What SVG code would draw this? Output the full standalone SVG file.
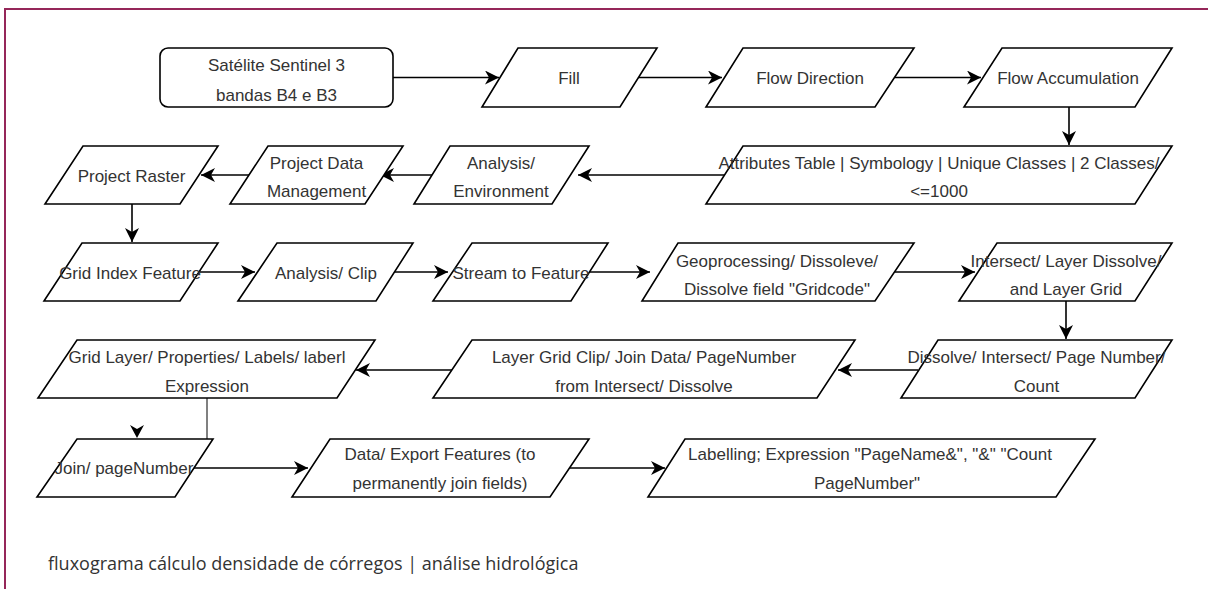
<svg xmlns="http://www.w3.org/2000/svg" width="1208" height="589" viewBox="0 0 1208 589">
<defs>
<marker id="arr" markerUnits="userSpaceOnUse" markerWidth="15" markerHeight="14" viewBox="0 0 15 14" refX="14" refY="7" orient="auto">
<path d="M0,0 L14,7 L0,14 L4,7 Z" fill="#000"/>
</marker>
<style>
.n{fill:#fff;stroke:#000;stroke-width:1.6}
.t{font-family:"Liberation Sans",Arial,sans-serif;font-size:17px;fill:#333;text-anchor:middle}
.c{fill:none;stroke:#000;stroke-width:1.6}
</style>
</defs>
<rect width="1208" height="589" fill="#fff"/>
<path d="M5,589 V9 H1208" fill="none" stroke="#952659" stroke-width="2"/>

<g id="connectors">
<path class="c" d="M393,77.5 H499" marker-end="url(#arr)"/>
<path class="c" d="M638,77.5 H722" marker-end="url(#arr)"/>
<path class="c" d="M895,77.5 H981" marker-end="url(#arr)"/>
<path class="c" d="M1069,107 V145" marker-end="url(#arr)"/>
<path class="c" d="M724,175 H578" marker-end="url(#arr)"/>
<path class="c" d="M433,175 H380" marker-end="url(#arr)"/>
<path class="c" d="M260,175 H201" marker-end="url(#arr)"/>
<path class="c" d="M132,204 V242" marker-end="url(#arr)"/>
<path class="c" d="M200,272 H255" marker-end="url(#arr)"/>
<path class="c" d="M394,272 H448" marker-end="url(#arr)"/>
<path class="c" d="M588,272 H650" marker-end="url(#arr)"/>
<path class="c" d="M895,272 H975" marker-end="url(#arr)"/>
<path class="c" d="M1066,301 V339" marker-end="url(#arr)"/>
<path class="c" d="M918,370 H838" marker-end="url(#arr)"/>
<path class="c" d="M452,370 H356" marker-end="url(#arr)"/>
<path d="M207,398 V439" fill="none" stroke="#808080" stroke-width="2"/>
<path d="M130,425 L137,438 L144,425 L137,429 Z" fill="#000"/>
<path class="c" d="M193,468 H308" marker-end="url(#arr)"/>
<path class="c" d="M570,468 H665" marker-end="url(#arr)"/>
</g>

<g id="n1"><rect class="n" x="160" y="48" width="233" height="59" rx="8"/>
<text class="t" x="276.5" y="71">Satélite Sentinel 3</text><text class="t" x="276.5" y="101">bandas B4 e B3</text></g>
<g id="n2"><polygon class="n" points="518,48 657,48 620,107 482,107"/><text class="t" x="569" y="84">Fill</text></g>
<g id="n3"><polygon class="n" points="743,48 914,48 875,107 706,107"/><text class="t" x="810" y="84">Flow Direction</text></g>
<g id="n4"><polygon class="n" points="1002,48 1172,48 1135,107 964,107"/><text class="t" x="1068" y="84">Flow Accumulation</text></g>

<g id="n5"><polygon class="n" points="743,146 1172,146 1135,204 706,204"/>
<text class="t" x="939" y="169">Attributes Table | Symbology | Unique Classes | 2 Classes/</text><text class="t" x="939" y="197">&lt;=1000</text></g>
<g id="n6"><polygon class="n" points="450,146 589,146 552,204 414,204"/>
<text class="t" x="501" y="169">Analysis/</text><text class="t" x="501" y="197">Environment</text></g>
<g id="n7"><polygon class="n" points="268,146 403,146 365,204 230,204"/>
<text class="t" x="316.5" y="169">Project Data</text><text class="t" x="316.5" y="197">Management</text></g>
<g id="n8"><polygon class="n" points="83,146 218,146 180,204 45,204"/><text class="t" x="131.5" y="182">Project Raster</text></g>

<g id="n9"><polygon class="n" points="82,243 218,243 180,301 44,301"/><text class="t" x="130" y="279">Grid Index Feature</text></g>
<g id="n10"><polygon class="n" points="277,243 413,243 376,301 238,301"/><text class="t" x="326" y="279">Analysis/ Clip</text></g>
<g id="n11"><polygon class="n" points="472,243 608,243 571,301 433,301"/><text class="t" x="521" y="279">Stream to Feature</text></g>
<g id="n12"><polygon class="n" points="678,243 914,243 875,301 642,301"/>
<text class="t" x="777" y="267">Geoprocessing/ Dissoleve/</text><text class="t" x="777" y="295">Dissolve field "Gridcode"</text></g>
<g id="n13"><polygon class="n" points="997,243 1172,243 1135,301 959,301"/>
<text class="t" x="1066" y="267">Intersect/ Layer Dissolve/</text><text class="t" x="1066" y="295">and Layer Grid</text></g>

<g id="n14"><polygon class="n" points="938,340 1172,340 1135,398 901,398"/>
<text class="t" x="1036.5" y="363">Dissolve/ Intersect/ Page Number/</text><text class="t" x="1036.5" y="392">Count</text></g>
<g id="n15"><polygon class="n" points="472,340 855,340 817,398 433,398"/>
<text class="t" x="644" y="363">Layer Grid Clip/ Join Data/ PageNumber</text><text class="t" x="644" y="392">from Intersect/ Dissolve</text></g>
<g id="n16"><polygon class="n" points="77,340 375,340 337,398 38,398"/>
<text class="t" x="207" y="363">Grid Layer/ Properties/ Labels/ laberl</text><text class="t" x="207" y="392">Expression</text></g>

<g id="n17"><polygon class="n" points="77,439 213,439 175,497 37,497"/><text class="t" x="124" y="474">Join/ pageNumber</text></g>
<g id="n18"><polygon class="n" points="330,439 589,439 550,497 292,497"/>
<text class="t" x="440" y="460">Data/ Export Features (to</text><text class="t" x="440" y="489">permanently join fields)</text></g>
<g id="n19"><polygon class="n" points="685,439 1095,439 1056,497 648,497"/>
<text class="t" x="870" y="460">Labelling; Expression "PageName&amp;", "&amp;" "Count</text><text class="t" x="867" y="489">PageNumber"</text></g>

<text x="48" y="570" font-family="'Open Sans','Noto Sans',sans-serif" font-size="18" fill="#333">fluxograma cálculo densidade de córregos | análise hidrológica</text>
</svg>
